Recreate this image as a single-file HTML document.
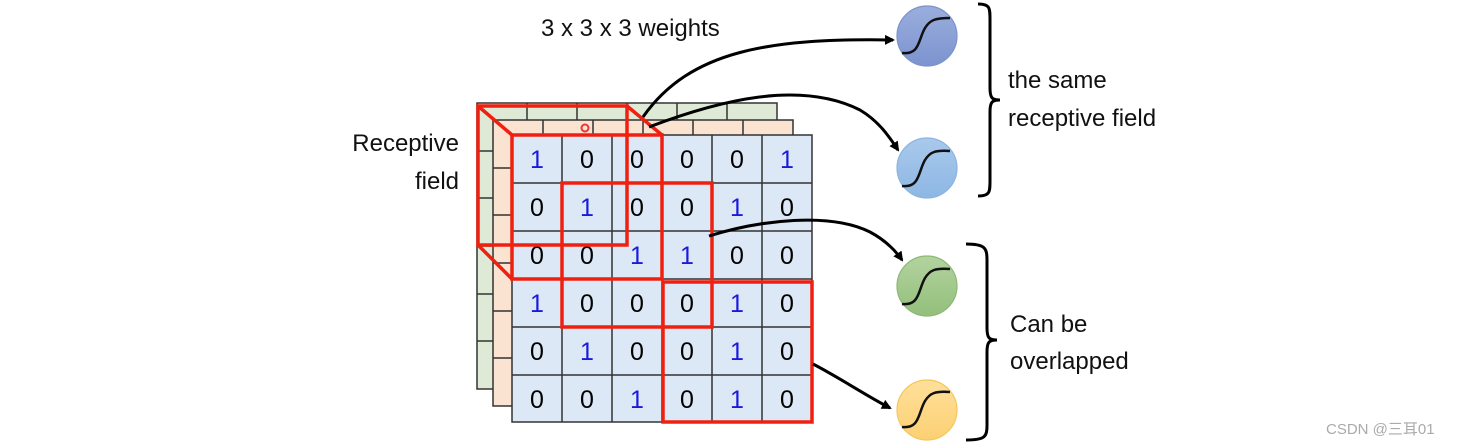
<!DOCTYPE html>
<html><head><meta charset="utf-8"><style>
html,body{margin:0;padding:0;background:#fff;}
svg{display:block;}
text{font-family:"Liberation Sans","DejaVu Sans",sans-serif;}
</style></head><body>
<svg width="1476" height="447" viewBox="0 0 1476 447" xmlns="http://www.w3.org/2000/svg">
<defs>
<marker id="ah" markerWidth="10" markerHeight="10" refX="8" refY="5" orient="auto" markerUnits="userSpaceOnUse"><path d="M0,0 L10,5 L0,10 z" fill="#000"/></marker>
<linearGradient id="g1" x1="0" y1="0" x2="0" y2="1"><stop offset="0" stop-color="#9aaedd"/><stop offset="1" stop-color="#7c93cf"/></linearGradient>
<linearGradient id="g2" x1="0" y1="0" x2="0" y2="1"><stop offset="0" stop-color="#a9c9ec"/><stop offset="1" stop-color="#8db7e3"/></linearGradient>
<linearGradient id="g3" x1="0" y1="0" x2="0" y2="1"><stop offset="0" stop-color="#b3d3a0"/><stop offset="1" stop-color="#93bf7b"/></linearGradient>
<linearGradient id="g4" x1="0" y1="0" x2="0" y2="1"><stop offset="0" stop-color="#ffe09a"/><stop offset="1" stop-color="#fcd074"/></linearGradient>
</defs>

<!-- green back grid -->
<g stroke="#333" stroke-width="1.5" fill="#dfead6">
<rect x="477" y="103" width="300" height="286"/>
<path d="M527,103V389M577,103V389M627,103V389M677,103V389M727,103V389M477,151H777M477,198H777M477,246H777M477,294H777M477,341H777" fill="none"/>
</g>
<!-- peach middle grid -->
<g stroke="#333" stroke-width="1.5" fill="#fbe3d2">
<rect x="493" y="120" width="300" height="286"/>
<path d="M543,120V406M593,120V406M643,120V406M693,120V406M743,120V406M493,168H793M493,215H793M493,263H793M493,311H793M493,358H793" fill="none"/>
</g>
<circle cx="585" cy="128" r="3.5" fill="none" stroke="#e33" stroke-width="2"/>

<!-- front grid -->
<g stroke="#333" stroke-width="1.5" fill="#dce8f5">
<rect x="512" y="135" width="300" height="287"/>
<path d="M562,135V422M612,135V422M662,135V422M712,135V422M762,135V422M512,183H812M512,231H812M512,279H812M512,327H812M512,375H812" fill="none"/>
</g>
<g font-size="25" text-anchor="middle">
<text x="537" y="168" fill="#1a1adb">1</text><text x="587" y="168">0</text><text x="637" y="168">0</text><text x="687" y="168">0</text><text x="737" y="168">0</text><text x="787" y="168" fill="#1a1adb">1</text>
<text x="537" y="216">0</text><text x="587" y="216" fill="#1a1adb">1</text><text x="637" y="216">0</text><text x="687" y="216">0</text><text x="737" y="216" fill="#1a1adb">1</text><text x="787" y="216">0</text>
<text x="537" y="264">0</text><text x="587" y="264">0</text><text x="637" y="264" fill="#1a1adb">1</text><text x="687" y="264" fill="#1a1adb">1</text><text x="737" y="264">0</text><text x="787" y="264">0</text>
<text x="537" y="312" fill="#1a1adb">1</text><text x="587" y="312">0</text><text x="637" y="312">0</text><text x="687" y="312">0</text><text x="737" y="312" fill="#1a1adb">1</text><text x="787" y="312">0</text>
<text x="537" y="360">0</text><text x="587" y="360" fill="#1a1adb">1</text><text x="637" y="360">0</text><text x="687" y="360">0</text><text x="737" y="360" fill="#1a1adb">1</text><text x="787" y="360">0</text>
<text x="537" y="408">0</text><text x="587" y="408">0</text><text x="637" y="408" fill="#1a1adb">1</text><text x="687" y="408">0</text><text x="737" y="408" fill="#1a1adb">1</text><text x="787" y="408">0</text>
</g>

<!-- red boxes -->
<g fill="none" stroke="#f02010" stroke-width="3.5" stroke-linejoin="miter">
<rect x="478" y="106" width="149" height="139"/>
<path d="M478,106L512,135M627,106L662,135M478,245L512,279"/>
<rect x="512" y="135" width="150" height="144"/>
<rect x="562" y="183" width="150" height="144"/>
<rect x="663" y="282" width="149" height="140"/>
</g>

<!-- arrows -->
<g fill="none" stroke="#000" stroke-width="3">
<path d="M643,117 C690,50 770,38 893,40" marker-end="url(#ah)"/>
<path d="M649,127 C720,100 800,80 860,110 C880,122 890,138 898,150" marker-end="url(#ah)"/>
<path d="M709,236 C760,220 830,212 870,232 C885,240 895,250 902,260" marker-end="url(#ah)"/>
<path d="M813,364 C840,378 865,395 890,408" marker-end="url(#ah)"/>
</g>

<!-- neurons -->
<g stroke-width="1.2">
<circle cx="927" cy="36" r="30" fill="url(#g1)" stroke="#7b93cc"/>
<circle cx="927" cy="168" r="30" fill="url(#g2)" stroke="#8db4e0"/>
<circle cx="927" cy="286" r="30" fill="url(#g3)" stroke="#8db876"/>
<circle cx="927" cy="410" r="30" fill="url(#g4)" stroke="#f5c75a"/>
</g>
<g fill="none" stroke="#111" stroke-width="2.5">
<path d="M902,53 C920,55 918,40 925,28 C930,20 935,18 950,18"/>
<path d="M902,186 C920,188 918,172 925,160 C930,152 935,150 950,151"/>
<path d="M902,304 C920,306 918,290 925,278 C930,270 935,268 950,269"/>
<path d="M902,427 C920,429 918,413 925,401 C930,393 935,391 950,392"/>
</g>

<!-- braces -->
<g fill="none" stroke="#000" stroke-width="3">
<path d="M978,4 C990,4 990,8 990,20 L990,88 C990,98 992,100 1000,100 C992,100 990,102 990,112 L990,180 C990,192 990,196 978,196"/>
<path d="M966,244 C985,244 987,248 987,260 L987,328 C987,338 989,340 997,340 C989,340 987,342 987,352 L987,425 C987,437 985,440 966,440"/>
</g>

<!-- labels -->
<g font-size="24" fill="#111">
<text x="541" y="36">3 x 3 x 3 weights</text>
<text x="459" y="151" text-anchor="end">Receptive</text>
<text x="459" y="189" text-anchor="end">field</text>
<text x="1008" y="88">the same</text>
<text x="1008" y="126">receptive field</text>
<text x="1010" y="332">Can be</text>
<text x="1010" y="369">overlapped</text>
</g>
<text x="1326" y="434" font-size="15" fill="#aaa" style="font-family:'Liberation Sans','Noto Sans CJK SC',sans-serif">CSDN @三耳01</text>
</svg>
</body></html>
